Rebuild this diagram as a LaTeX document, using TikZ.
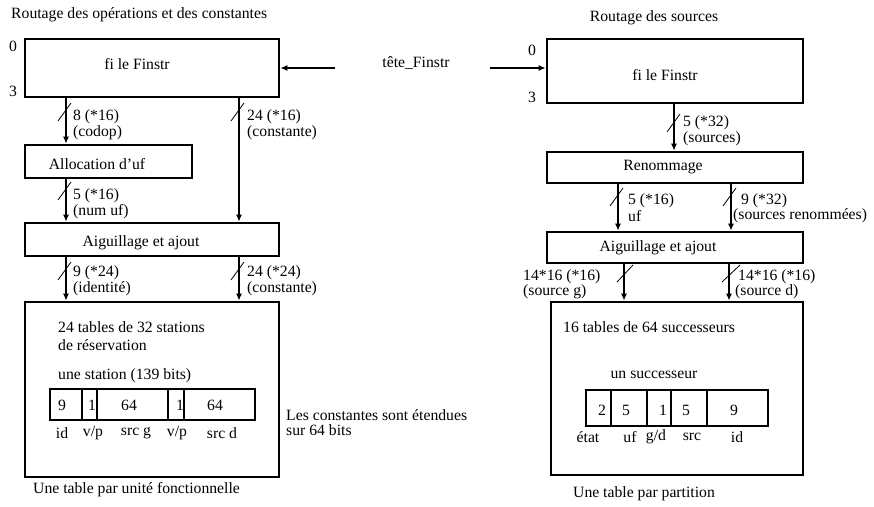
\documentclass[tikz,border=0pt]{standalone}
\usepackage{fontspec}
\setmainfont{Liberation Serif}
\usetikzlibrary{arrows.meta}
\newcommand\busmark[2]{\draw[slash] (#1-8,#2+9) -- (#1+5,#2-9);}
\begin{document}
\begin{tikzpicture}[x=1pt,y=-1pt,
  every node/.style={font=\fontsize{15.7}{18}\selectfont, inner sep=0pt},
  boxnode/.style={draw, line width=2.7pt, inner sep=0pt},
  cell/.style={draw, line width=2.7pt, minimum height=31pt, inner sep=0pt},
  wire/.style={line width=1.9pt, -{Latex[length=7pt,width=6pt]}},
  bwire/.style={line width=2.8pt, -{Latex[length=7pt,width=6pt]}},
  slash/.style={line width=0.8pt},
  lbl/.style={anchor=west}]
\useasboundingbox (0,0) rectangle (874,506);

% ---------------- left part ----------------
\node[lbl] (t1) at (11,15) {Routage des opérations et des constantes};
\node[boxnode, minimum width=254pt, minimum height=58pt] (f1) at (152,68) {};
\node (f1t) at (137,64) {fi le Finstr};
\node (f1z) at (13,46) {0};
\node (f1d) at (13,91) {3};

\node[boxnode, minimum width=167pt, minimum height=33pt] (alloc) at (108.5,161.5) {};
\node (alloct) at (97,164) {Allocation d’uf};
\node[boxnode, minimum width=254pt, minimum height=33pt] (aig1) at (152,239.5) {};
\node (aig1t) at (141,243) {Aiguillage et ajout};
\node[boxnode, minimum width=254pt, minimum height=175pt] (rs) at (152,389.5) {};

\coordinate (xa) at (66,0);
\coordinate (xb) at (239,0);
\draw[wire] (f1.south -| xa) -- (alloc.north -| xa);
\draw[wire] (alloc.south -| xa) -- (aig1.north -| xa);
\draw[wire] (f1.south -| xb) -- (aig1.north -| xb);
\draw[wire] (aig1.south -| xa) -- (rs.north -| xa);
\draw[wire] (aig1.south -| xb) -- (rs.north -| xb);
\busmark{66}{112}
\busmark{239}{112}
\busmark{66}{191}
\busmark{66}{271}
\busmark{239}{271}

\node[lbl] (l1a) at (73,117) {8 (*16)};
\node[lbl] (l1b) at (73,133) {(codop)};
\node[lbl] (l2a) at (247,117) {24 (*16)};
\node[lbl] (l2b) at (247,133) {(constante)};
\node[lbl] (l3a) at (73,196) {5 (*16)};
\node[lbl] (l3b) at (73,212) {(num uf)};
\node[lbl] (l4a) at (73,273) {9 (*24)};
\node[lbl] (l4b) at (73,289) {(identité)};
\node[lbl] (l5a) at (247,273) {24 (*24)};
\node[lbl] (l5b) at (247,289) {(constante)};

\node[lbl] (rs1) at (58,327) {24 tables de 32 stations};
\node[lbl] (rs2) at (58,345) {de réservation};
\node[lbl] (rs3) at (58,376) {une station (139 bits)};

\node[cell, minimum width=32pt] (c1) at (66,404.5) {};
\node[cell, minimum width=15pt] (c2) at (89.5,404.5) {};
\node[cell, minimum width=71pt] (c3) at (132.5,404.5) {};
\node[cell, minimum width=16pt] (c4) at (176,404.5) {};
\node[cell, minimum width=71pt] (c5) at (219.5,404.5) {};
\node (v1) at (62,405) {9};
\node (v2) at (92,405) {1};
\node (v3) at (129,405) {64};
\node (v4) at (180,405) {1};
\node (v5) at (215,405) {64};
\node (n1) at (62,433) {id};
\node (n2) at (93,433) {v/p};
\node (n3) at (136,433) {src g};
\node (n4) at (177,433) {v/p};
\node (n5) at (222,433) {src d};

\node[lbl] (ext1) at (286,415) {Les constantes sont étendues};
\node[lbl] (ext2) at (286,430) {sur 64 bits};
\node[lbl] (b1) at (33,490) {Une table par unité fonctionnelle};

% ---------------- middle ----------------
\node (tete) at (416,63) {tête\_Finstr};

% ---------------- right part ----------------
\node (t2) at (654,18) {Routage des sources};
\node[boxnode, minimum width=256pt, minimum height=64pt] (f2) at (675,71) {};
\node (f2t) at (665,75) {fi le Finstr};
\node (f2z) at (532,50) {0};
\node (f2d) at (532,97) {3};

\coordinate (tl) at (335,68);
\coordinate (tr) at (490,68);
\draw[wire] (tl) -- (f1.east |- tl);
\draw[wire] (tr) -- (f2.west |- tr);

\node[boxnode, minimum width=256pt, minimum height=31pt] (ren) at (675,167.5) {};
\node (rent) at (663,167) {Renommage};
\node[boxnode, minimum width=256pt, minimum height=31pt] (aig2) at (675,247.5) {};
\node (aig2t) at (658,248) {Aiguillage et ajout};
\node[boxnode, minimum width=252pt, minimum height=173pt] (succ) at (677,388.5) {};

\coordinate (xc) at (674,0);
\coordinate (xd) at (618,0);
\coordinate (xe) at (731,0);
\coordinate (xf) at (624,0);
\coordinate (xg) at (729,0);
\draw[wire] (f2.south -| xc) -- (ren.north -| xc);
\draw[wire] (ren.south -| xd) -- (aig2.north -| xd);
\draw[wire] (ren.south -| xe) -- (aig2.north -| xe);
\draw[bwire] (aig2.south -| xf) -- (succ.north -| xf);
\draw[bwire] (aig2.south -| xg) -- (succ.north -| xg);
\busmark{675}{123}
\busmark{618}{197}
\busmark{731}{197}
\draw[slash] (617,282) -- (633,265);
\draw[slash] (722,282) -- (740,265);

\node[lbl] (r1a) at (683,123) {5 (*32)};
\node[lbl] (r1b) at (683,139) {(sources)};
\node[lbl] (r2a) at (628,201) {5 (*16)};
\node[lbl] (r2b) at (628,216) {uf};
\node[lbl] (r3a) at (741,201) {9 (*32)};
\node[lbl] (r3b) at (733,216) {(sources renommées)};
\node[lbl] (r4a) at (523,277) {14*16 (*16)};
\node[lbl] (r4b) at (523,292) {(source g)};
\node[lbl] (r5a) at (738,277) {14*16 (*16)};
\node[lbl] (r5b) at (735,292) {(source d)};

\node[lbl] (sc1) at (563,327) {16 tables de 64 successeurs};
\node (sc2) at (654,375) {un successeur};

\node[cell, minimum width=25pt, minimum height=36pt] (d1) at (598.5,408) {};
\node[cell, minimum width=36pt, minimum height=36pt] (d2) at (629,408) {};
\node[cell, minimum width=24pt, minimum height=36pt] (d3) at (659,408) {};
\node[cell, minimum width=36pt, minimum height=36pt] (d4) at (689,408) {};
\node[cell, minimum width=61pt, minimum height=36pt] (d5) at (737.5,408) {};
\node (w1) at (602,410) {2};
\node (w2) at (626,410) {5};
\node (w3) at (663,410) {1};
\node (w4) at (686,410) {5};
\node (w5) at (734,410) {9};
\node (m1) at (588,437) {état};
\node (m2) at (630,437) {uf};
\node (m3) at (656,437) {g/d};
\node (m4) at (692,437) {src};
\node (m5) at (737,437) {id};

\node (b2) at (644,494) {Une table par partition};
\end{tikzpicture}
\end{document}
